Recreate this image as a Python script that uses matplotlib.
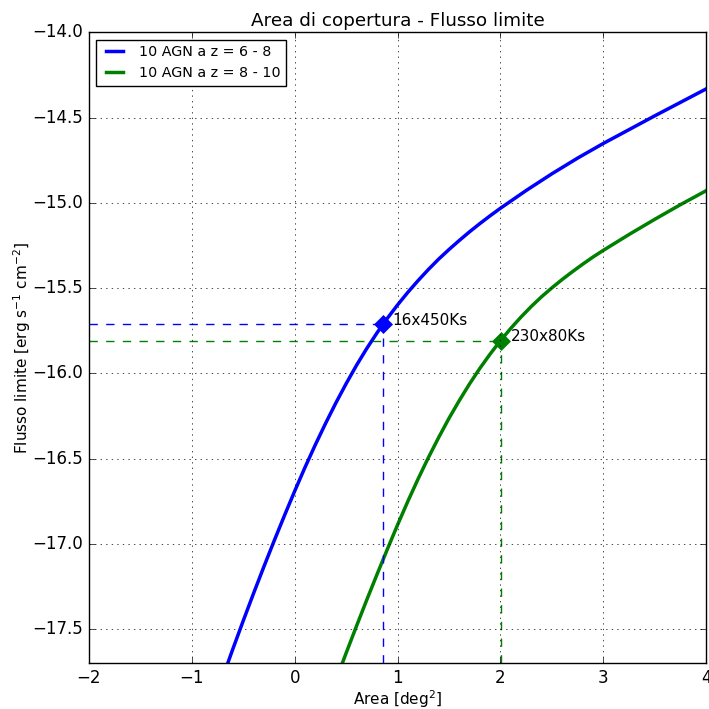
from matplotlib import pyplot as plt

# flux limit curves
area_z68 = [-0.7, -0.6, -0.5, -0.4, -0.3, -0.2, -0.1, 0.0, 0.1, 0.2, 0.3,
            0.4, 0.5, 0.6, 0.7, 0.8, 0.854, 0.9, 1.0, 1.1, 1.2, 1.3, 1.4,
            1.5, 1.6, 1.7, 1.8, 1.9, 2.0, 2.25, 2.5, 2.75, 3.0, 3.5, 4.0]
flux_z68 = [-17.782, -17.614, -17.450, -17.290, -17.134, -16.982, -16.834,
            -16.690, -16.551, -16.419, -16.293, -16.173, -16.060, -15.953,
            -15.854, -15.762, -15.715, -15.677, -15.598, -15.524, -15.455,
            -15.390, -15.329, -15.273, -15.220, -15.169, -15.121, -15.075,
            -15.031, -14.927, -14.829, -14.737, -14.651, -14.489, -14.331]

area_z810 = [0.4, 0.5, 0.6, 0.7, 0.8, 0.9, 1.0, 1.1, 1.2, 1.3, 1.4, 1.5,
             1.6, 1.7, 1.8, 1.9, 2.0, 2.1, 2.2, 2.3, 2.4, 2.5, 2.6, 2.7,
             2.8, 2.9, 3.0, 3.25, 3.5, 3.75, 4.0]
flux_z810 = [-17.800, -17.640, -17.483, -17.329, -17.179, -17.032, -16.888,
             -16.750, -16.618, -16.493, -16.375, -16.263, -16.159, -16.061,
             -15.970, -15.886, -15.808, -15.736, -15.669, -15.607, -15.550,
             -15.498, -15.449, -15.403, -15.359, -15.317, -15.278, -15.185,
             -15.096, -15.010, -14.928]

labels = ["10 AGN a z = 6 - 8", "10 AGN a z = 8 - 10"]
colors = ["blue", "green"]

# chosen surveys
survey_area = [0.854, 2.003]
survey_flux = [-15.712, -15.807]
survey_names = ["16x450Ks", "230x80Ks"]

plt.style.use("classic")
plt.rcParams["mathtext.fontset"] = "dejavusans"

fig = plt.figure(figsize=(7.09, 7.09), dpi=100, facecolor="white")
ax = fig.add_axes([0.1255, 0.0645, 0.8705, 0.8897])

xmin, xmax = -2, 4
ymin, ymax = -17.7, -14.0

ax.plot(area_z68, flux_z68, color=colors[0], lw=2.5, label=labels[0])
ax.plot(area_z810, flux_z810, color=colors[1], lw=2.5, label=labels[1])

for a, f, c, name in zip(survey_area, survey_flux, colors, survey_names):
    ax.plot([xmin, a], [f, f], "--", color=c, lw=1)
    ax.plot([a, a], [ymin, f], "--", color=c, lw=1)
    ax.plot(a, f, "D", color=c, mec=c, ms=9)
    ax.annotate(name, (a, f), xytext=(7, 3), textcoords="offset points",
                va="center", fontsize=11)

ax.set_xlim(xmin, xmax)
ax.set_ylim(ymin, ymax)
ax.set_xticks([-2, -1, 0, 1, 2, 3, 4])
ax.set_yticks([-17.5, -17.0, -16.5, -16.0, -15.5, -15.0, -14.5, -14.0])
ax.set_xlabel("Area [deg$^2$]", fontsize=11, labelpad=1)
ax.set_ylabel("Flusso limite [erg s$^{-1}$ cm$^{-2}$]", fontsize=11,
              labelpad=0)
ax.set_title("Area di copertura - Flusso limite", fontsize=13.2)
ax.grid(True)
ax.legend(loc="upper left", fontsize=10.3, handlelength=1.8)

plt.savefig("out.png", dpi=100, facecolor="white")
